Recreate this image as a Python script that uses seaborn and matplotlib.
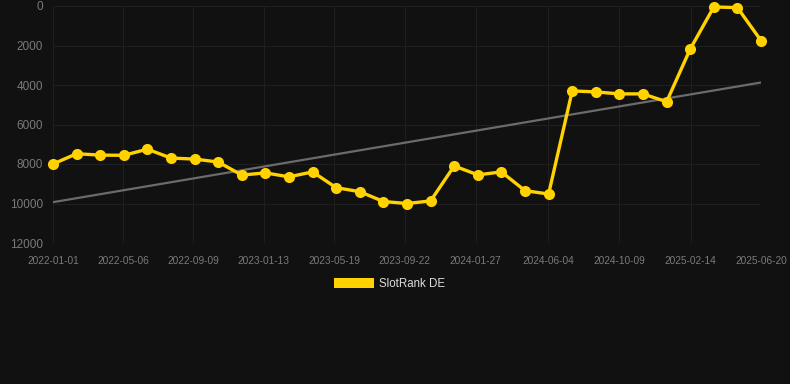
import numpy as np
import pandas as pd
import matplotlib
matplotlib.use("Agg")
import matplotlib.pyplot as plt
import matplotlib.dates as mdates
from matplotlib.patches import Patch
import seaborn as sns

start_date = "2022-01-01"
end_date = "2025-06-20"
n_points = 31
ranks = [8000, 7480, 7550, 7560, 7250, 7700, 7750, 7900, 8560, 8450,
         8650, 8400, 9200, 9400, 9900, 10000, 9870, 8100, 8550, 8400,
         9350, 9520, 4300, 4350, 4450, 4450, 4850, 2180, 50, 80, 1750]
tick_labels = ["2022-01-01", "2022-05-06", "2022-09-09", "2023-01-13", "2023-05-19",
               "2023-09-22", "2024-01-27", "2024-06-04", "2024-10-09", "2025-02-14",
               "2025-06-20"]
y_ticks = [0, 2000, 4000, 6000, 8000, 10000, 12000]
series_name = "SlotRank DE"

dates = pd.date_range(start_date, end_date, periods=n_points)
df = pd.DataFrame({"date": dates, "rank": ranks})

# linear trend
xnum = mdates.date2num(df["date"])
coef = np.polyfit(xnum, df["rank"], 1)
df["trend"] = np.polyval(coef, xnum)

bg = "#111111"
sns.set_theme(style="dark")
plt.rcParams["font.family"] = ["Liberation Sans", "DejaVu Sans"]

fig = plt.figure(figsize=(7.9, 3.84), dpi=100, facecolor=bg)
ax = fig.add_axes([53/790, 1-243/384, (761-53)/790, (243-6)/384])
ax.set_facecolor(bg)

sns.lineplot(data=df, x="date", y="trend", ax=ax, color="#6b6b6b", linewidth=1.6, zorder=2)
sns.lineplot(data=df, x="date", y="rank", ax=ax, color="#FFD200", linewidth=2.4,
             marker="o", markersize=8, markeredgewidth=0, zorder=3, clip_on=False)

ax.set_ylim(12000, 0)
ax.set_yticks(y_ticks)
ax.set_yticklabels([str(v) for v in y_ticks])
tick_dates = pd.to_datetime(tick_labels)
ax.set_xticks(tick_dates)
ax.set_xticklabels(tick_labels)
ax.set_xlim(dates[0], dates[-1])

ax.grid(True, color="#1f1f1f", linewidth=0.8)
ax.tick_params(axis="y", colors="#7a7a7a", labelsize=8.5, length=0, pad=7)
ax.tick_params(axis="x", colors="#7a7a7a", labelsize=7.3, length=5, width=0.8, pad=4)
ax.tick_params(axis="x", color="#1f1f1f")
for s in ax.spines.values():
    s.set_visible(False)
ax.set_xlabel("")
ax.set_ylabel("")

handle = Patch(facecolor="#FFD200", edgecolor="none")
fig.legend([handle], [series_name], loc="center", bbox_to_anchor=(390/790, 1-284/384),
           frameon=False, fontsize=8.3, labelcolor="#dddddd", handlelength=3.4,
           handleheight=1.0, handletextpad=0.5)

fig.savefig("out.png", dpi=100, facecolor=bg)
